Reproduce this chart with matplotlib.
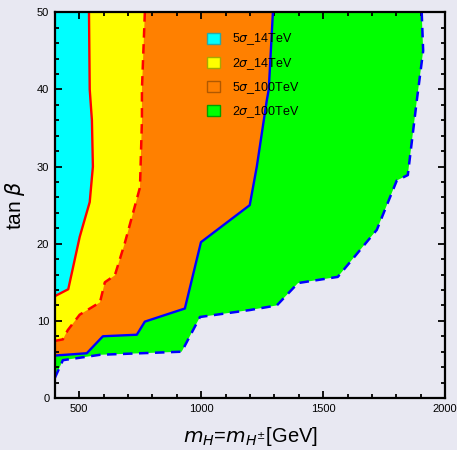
import matplotlib
matplotlib.use("Agg")
import matplotlib.pyplot as plt
from matplotlib.patches import Patch
from matplotlib.ticker import MultipleLocator

# boundary curves (m_H in GeV, tan beta)
red_solid_x = [400, 455, 502, 543, 556, 552, 543, 540]
red_solid_y = [13.2, 14.1, 20.9, 25.4, 30.0, 36.0, 40.0, 50.0]

red_dash_x = [400, 433, 453, 502, 585, 605, 646, 687, 749, 757, 757, 769]
red_dash_y = [7.4, 7.6, 8.8, 10.8, 12.4, 15.0, 15.9, 20.1, 27.3, 36.0, 40.0, 50.0]

blue_solid_x = [400, 531, 597, 736, 769, 933, 999, 1199, 1228, 1269, 1277, 1294]
blue_solid_y = [5.5, 5.8, 8.0, 8.2, 9.9, 11.6, 20.2, 25.0, 30.0, 38.6, 40.0, 50.0]

blue_dash_x = [400, 433, 585, 920, 995, 1199, 1310, 1397, 1560, 1720, 1802, 1847, 1884, 1910, 1904]
blue_dash_y = [2.6, 4.9, 5.6, 6.0, 10.5, 11.4, 12.0, 14.9, 15.7, 21.8, 28.2, 28.9, 38.6, 45.0, 50.0]

labels = [r"5$\sigma$_14TeV", r"2$\sigma$_14TeV", r"5$\sigma$_100TeV", r"2$\sigma$_100TeV"]

bg = "#e8e8f2"
cyan, yellow, orange, green = "#00ffff", "#ffff00", "#ff8000", "#00ff00"

plt.rcParams["font.family"] = ["Liberation Sans", "DejaVu Sans"]
plt.rcParams["mathtext.fontset"] = "dejavusans"

fig = plt.figure(figsize=(4.57, 4.50), dpi=100, facecolor=bg)
ax = fig.add_axes([0.120, 0.1156, 0.854, 0.857], facecolor=bg)

# fill each region: everything left/above its boundary, painted outer to inner
for xs, ys, col in [(blue_dash_x, blue_dash_y, green),
                    (blue_solid_x, blue_solid_y, orange),
                    (red_dash_x, red_dash_y, yellow),
                    (red_solid_x, red_solid_y, cyan)]:
    ax.fill(xs + [400], ys + [50], color=col, lw=0, zorder=1)

dash = (0, (3.8, 2.6))
ax.plot(blue_dash_x, blue_dash_y, color="#0000ff", lw=1.8, ls=dash, zorder=3)
ax.plot(blue_solid_x, blue_solid_y, color="#0000ff", lw=1.7, zorder=3)
ax.plot(red_dash_x, red_dash_y, color="#ff0000", lw=1.8, ls=dash, zorder=3)
ax.plot(red_solid_x, red_solid_y, color="#ff0000", lw=1.7, zorder=3)

ax.set_xlim(400, 2000)
ax.set_ylim(0, 50)
ax.xaxis.set_major_locator(MultipleLocator(500))
ax.xaxis.set_minor_locator(MultipleLocator(100))
ax.yaxis.set_major_locator(MultipleLocator(10))
ax.yaxis.set_minor_locator(MultipleLocator(2))
ax.tick_params(which="both", direction="in", top=True, right=True,
               labelsize=8, width=1.3, color="black", pad=4)
ax.tick_params(which="major", length=5)
ax.tick_params(which="minor", length=3)
for s in ax.spines.values():
    s.set_linewidth(1.6)
    s.set_zorder(5)

ax.set_xlabel(r"$m_H$=$m_{H^{\pm}}$[GeV]", fontsize=14.5, labelpad=8)
ax.set_ylabel(r"tan $\beta$", fontsize=15, labelpad=7)

handles = [Patch(facecolor=cyan, edgecolor="#2aa8a8"),
           Patch(facecolor=yellow, edgecolor="#a8a800"),
           Patch(facecolor=orange, edgecolor="#b05800"),
           Patch(facecolor=green, edgecolor="#00a000")]
ax.legend(handles, labels, loc="upper left", bbox_to_anchor=(0.39, 0.95),
          frameon=False, fontsize=9, handlelength=1.0, handleheight=1.0,
          handletextpad=1.0, labelspacing=0.66, borderpad=0, borderaxespad=0)

fig.savefig("out.png", dpi=100, facecolor=bg)
